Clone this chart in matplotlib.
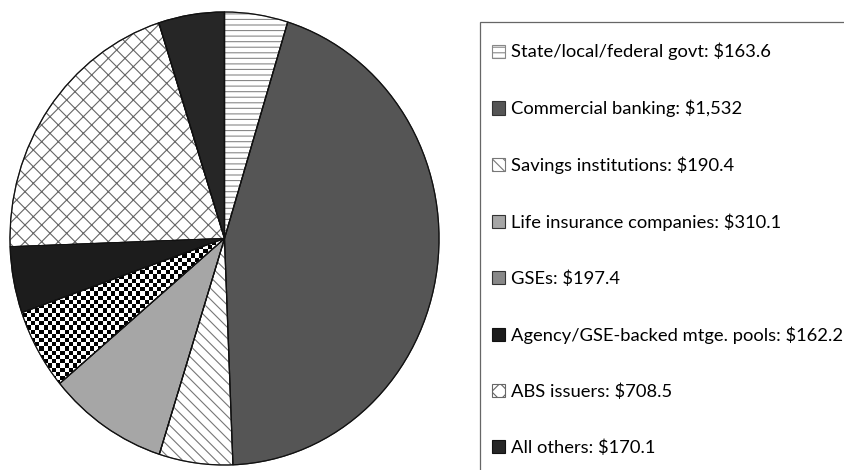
import numpy as np
import matplotlib
matplotlib.use("Agg")
import matplotlib.pyplot as plt
from matplotlib.patches import Rectangle

plt.rcParams['font.family'] = ['Lato', 'DejaVu Sans']
plt.rcParams['hatch.linewidth'] = 0.8

# Mortgage holdings by sector ($ billions)
sectors = ["State/local/federal govt", "Commercial banking", "Savings institutions",
           "Life insurance companies", "GSEs", "Agency/GSE-backed mtge. pools",
           "ABS issuers", "All others"]
amounts = [163.6, 1532, 190.4, 310.1, 197.4, 162.2, 708.5, 170.1]
amount_labels = ["$163.6", "$1,532", "$190.4", "$310.1", "$197.4", "$162.2", "$708.5", "$170.1"]

face_colors = ["white", "#555555", "white", "#a6a6a6", "white", "#1c1c1c", "white", "#262626"]
hatch_colors = ["#888888", "#333333", "#777777", "#333333", "#333333", "#111111", "#666666", "#111111"]
hatches = ["---", None, "\\\\\\", None, None, None, "xx", None]

W, H = 844, 470
fig = plt.figure(figsize=(W / 100, H / 100), dpi=100)

# pie axes (scan is slightly taller than wide)
cx, cy, rx, ry = 224.5, 470 - 238.5, 214.5, 226.5
ax = fig.add_axes([(cx - rx) / W, (cy - ry) / H, 2 * rx / W, 2 * ry / H])

wedges, _ = ax.pie(amounts, startangle=90, counterclock=False, radius=1,
                   colors=face_colors,
                   wedgeprops=dict(linewidth=0.8))
for w, hc, h in zip(wedges, hatch_colors, hatches):
    w.set_edgecolor(hc)
    if h:
        w.set_hatch(h)

# checkerboard fill for GSEs
n_x, n_y = int(2 * rx / 4.2), int(2 * ry / 4.2)
checker = (np.add.outer(np.arange(n_y), np.arange(n_x)) % 2).astype(float)
img = ax.imshow(checker, cmap="gray", extent=(-1, 1, -1, 1), interpolation="nearest",
                vmin=0, vmax=1, zorder=2)
img.set_clip_path(wedges[4])
wedges[4].set_facecolor("#888888")

# black outlines on top
outline, _ = ax.pie(amounts, startangle=90, counterclock=False, radius=1,
                    colors=["none"] * len(amounts),
                    wedgeprops=dict(linewidth=0.9, edgecolor="#111111", zorder=3))
ax.set_aspect("auto")
ax.set_xlim(-1, 1)
ax.set_ylim(-1, 1)
ax.axis("off")

# legend with frame running off the page
labels = [f"{s}: {a}" for s, a in zip(sectors, amount_labels)]
fig.legend(wedges, labels, loc="upper left", bbox_to_anchor=(492 / W, 1 - 43 / H),
           frameon=False, fontsize=13.2, handlelength=0.72, handleheight=0.72,
           handletextpad=0.3, labelspacing=2.15, borderpad=0, borderaxespad=0)
fig.add_artist(Rectangle((480 / W, -0.05), 0.6, 1.05 - 22 / H, transform=fig.transFigure,
                         fill=False, edgecolor="#666666", linewidth=0.9))

fig.savefig("out.png", dpi=100)
